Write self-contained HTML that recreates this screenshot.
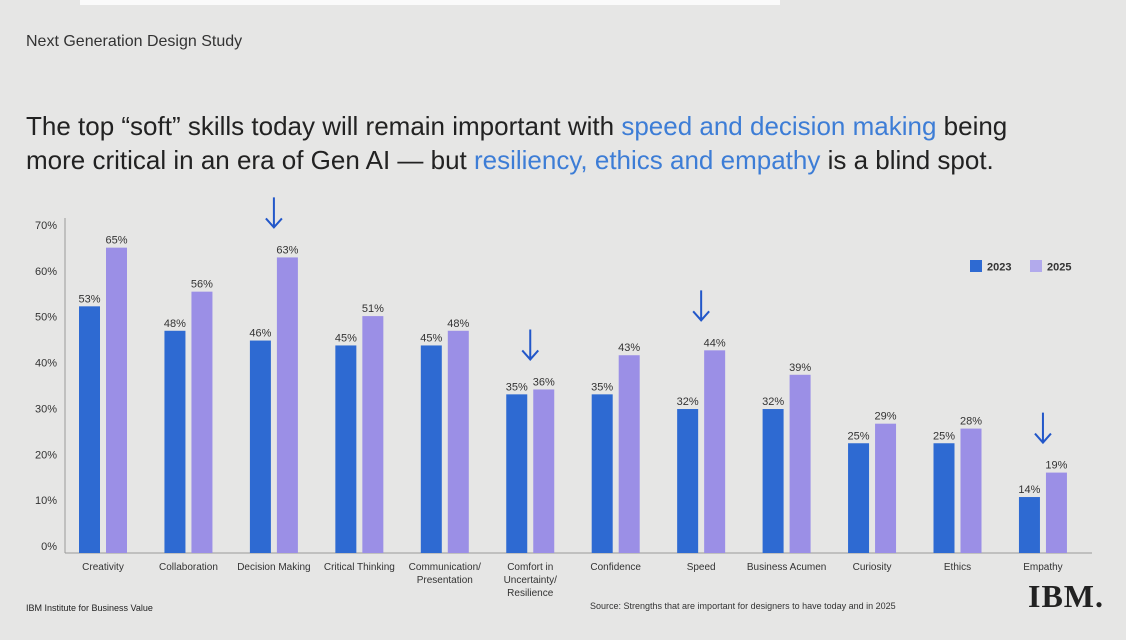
<!DOCTYPE html>
<html><head><meta charset="utf-8"><style>
body{margin:0;background:#e6e6e5;font-family:"Liberation Sans",sans-serif;}
#wrap{position:relative;width:1126px;height:640px;overflow:hidden;background:#e6e6e5;}
.t{position:absolute;color:#222;white-space:nowrap;}
.hl{color:#3d7dd6;}
</style></head><body>
<div id="wrap">
<div style="position:absolute;left:80px;top:0;width:700px;height:5px;background:#fafafa"></div>
<div class="t" style="left:26px;top:33px;font-size:16px;color:#333">Next Generation Design Study</div>
<div class="t" style="left:26px;top:109px;font-size:26px;line-height:34px;color:#222">The top “soft” skills today will remain important with <span class="hl">speed and decision making</span> being<br>more critical in an era of Gen AI — but <span class="hl">resiliency, ethics and empathy</span> is a blind spot.</div>
<svg id="chart" width="1126" height="640" style="position:absolute;left:0;top:0"></svg>
<div class="t" style="left:26px;top:603px;font-size:9px;color:#222">IBM Institute for Business Value</div>
<div class="t" style="left:590px;top:601px;font-size:9px;color:#333">Source: Strengths that are important for designers to have today and in 2025</div>
<div class="t" style="left:1028px;top:578px;font-size:32px;font-weight:bold;font-family:'Liberation Serif',serif;letter-spacing:1px;color:#222">IBM.</div>
</div>
<script>
const categories=["Creativity","Collaboration","Decision Making","Critical Thinking","Communication/|Presentation","Comfort in|Uncertainty/|Resilience","Confidence","Speed","Business Acumen","Curiosity","Ethics","Empathy"];
const values2023=[53,48,46,45,45,35,35,32,32,25,25,14];
const values2025=[65,56,63,51,48,36,43,44,39,29,28,19];
const tickValues=[0,10,20,30,40,50,60,70];
const arrowCategories=[2,5,7,11];
const NS="http://www.w3.org/2000/svg";
const svg=document.getElementById('chart');
const baseY=553;
function yScale(v){return Math.min(baseY,565.5-4.89*v);}
function tickY(v){return 546-v*4.586;}
function xGroup(i){return 79+i*85.45;}
function mk(tag,attrs){const e=document.createElementNS(NS,tag);for(const k in attrs)e.setAttribute(k,attrs[k]);svg.appendChild(e);return e;}
let ax=mk('line',{x1:65,y1:218,x2:65,y2:baseY,stroke:'#999','stroke-width':1});


let bx=mk('line',{x1:65,y1:baseY,x2:1092,y2:baseY,stroke:'#999','stroke-width':1});


tickValues.forEach(v=>{
 const t=mk('text',{x:57,y:tickY(v)+4,'text-anchor':'end','font-size':11,fill:'#333'});
 t.textContent=v+'%';
 
 
});
const cols=['#2e6ad2','#9b8fe6'];
categories.forEach((c,i)=>{
 [values2023[i],values2025[i]].forEach((v,s)=>{
  const x=xGroup(i)+s*27;
  const y=yScale(v);
  const r=mk('rect',{x:x,y:y,width:21,height:baseY-y,fill:cols[s]});
  
  
  const t=mk('text',{x:x+10.5,y:y-4,'text-anchor':'middle','font-size':11,fill:'#333'});
  t.textContent=v+'%';
  
  
 });
 const lines=c.split('|');
 lines.forEach((ln,j)=>{
  const t=mk('text',{x:xGroup(i)+24,y:570+j*13,'text-anchor':'middle','font-size':10,fill:'#333'});
  t.textContent=ln;
  
  
 });
});
arrowCategories.forEach(ci=>{
 const v=Math.max(values2023[ci],values2025[ci]);
 const x=xGroup(ci)+24;
 const yb=yScale(v)-30;
 const g=mk('path',{d:`M${x} ${yb-30} L${x} ${yb} M${x-8} ${yb-9} L${x} ${yb} L${x+8} ${yb-9}`,stroke:'#2257c9','stroke-width':2,fill:'none'});
 
 
});
[['2023',970],['2025',1030]].forEach((l,s)=>{
 const r=mk('rect',{x:l[1],y:260,width:12,height:12,fill:s?'#b2aaec':'#2e6ad2'});
 
 
 const t=mk('text',{x:l[1]+17,y:270.5,'font-size':11,'font-weight':'bold',fill:'#333'});
 t.textContent=l[0];
 
 
});
</script>
</body></html>
